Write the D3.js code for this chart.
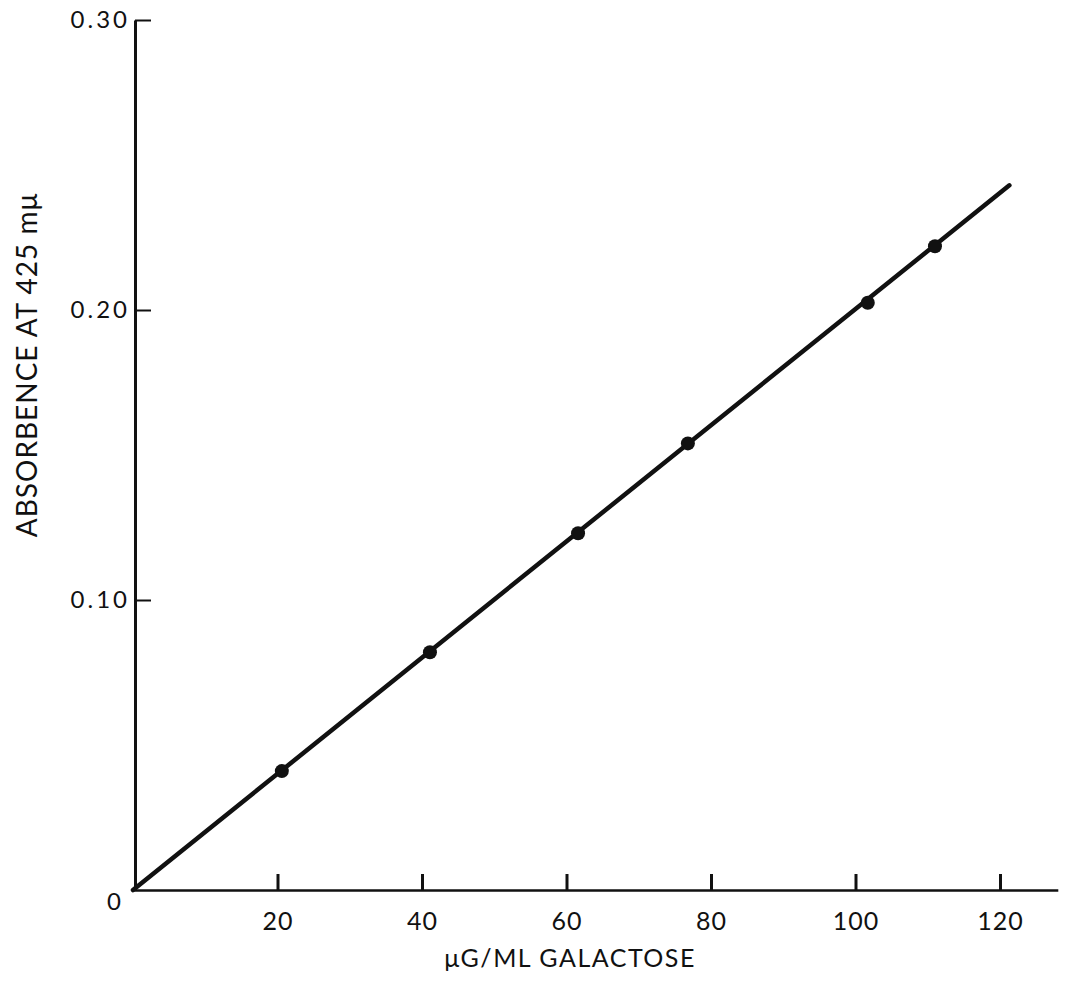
<!DOCTYPE html>
<html>
<head>
<meta charset="utf-8">
<script src="https://cdn.jsdelivr.net/npm/d3@7"></script>
<style>
  body { margin: 0; background: #fff; }
  svg text { font-family: Lato, "DejaVu Sans", sans-serif; fill: #111; }
</style>
</head>
<body>
<svg id="chart"></svg>
<script>
// values
const galactose = [20.6, 41.1, 61.6, 76.8, 101.7, 111];
const absorbence = [0.041, 0.082, 0.123, 0.154, 0.2025, 0.222];
const fitLineX = [0, 121.3];
const fitLineY = [0, 0.243];
const xTicks = [20, 40, 60, 80, 100, 120];
const yTicks = [0, 0.1, 0.2, 0.3];

const width = 1068, height = 982;

const svg = d3.select('#chart')
    .attr('width', width)
    .attr('height', height);

const x = d3.scaleLinear()
    .domain([0, 128])
    .range([133, 133 + 128 * 7.225]);

const y = d3.scaleLinear()
    .domain([0, 0.3])
    .range([890, 20]);

// x axis, ticks point up into the plot
const xAxis = svg.append('g')
    .attr('transform', `translate(0,${y(0)})`)
    .call(d3.axisBottom(x)
        .tickValues(xTicks)
        .tickSizeInner(-16)
        .tickSizeOuter(0)
        .tickPadding(22)
        .tickFormat(d3.format('d')));
xAxis.select('.domain').attr('stroke', '#111').attr('stroke-width', 2.5);
xAxis.selectAll('.tick line').attr('stroke', '#111').attr('stroke-width', 3);
xAxis.selectAll('.tick text')
    .attr('font-size', 25)
    .attr('letter-spacing', 1)
    .attr('fill', '#111');

// y axis, ticks point right
const yAxis = svg.append('g')
    .attr('transform', `translate(${x(0) + 2},0)`)
    .call(d3.axisLeft(y)
        .tickValues(yTicks)
        .tickSizeInner(-16)
        .tickSizeOuter(0)
        .tickPadding(5)
        .tickFormat(d => d === 0 ? '0' : d.toFixed(2)));
yAxis.select('.domain').attr('stroke', '#111').attr('stroke-width', 3);
yAxis.selectAll('.tick line').attr('stroke', '#111').attr('stroke-width', 2);
yAxis.selectAll('.tick text')
    .attr('font-size', 24)
    .attr('letter-spacing', 3)
    .attr('fill', '#111');
yAxis.selectAll('.tick').filter(d => d === 0).select('line').remove();
yAxis.selectAll('.tick').filter(d => d === 0).select('text')
    .attr('dx', -6).attr('dy', '0.8em');

// fitted straight line
const line = d3.line()
    .x(d => x(d[0]))
    .y(d => y(d[1]));

svg.append('path')
    .datum(d3.zip(fitLineX, fitLineY))
    .attr('d', line)
    .attr('fill', 'none')
    .attr('stroke', '#111')
    .attr('stroke-width', 4.5)
    .attr('stroke-linecap', 'round');

// measured points
svg.append('g')
    .selectAll('circle')
    .data(d3.zip(galactose, absorbence))
    .join('circle')
    .attr('cx', d => x(d[0]))
    .attr('cy', d => y(d[1]))
    .attr('r', 7)
    .attr('fill', '#111');

// axis titles
svg.append('text')
    .attr('x', 570)
    .attr('y', 967)
    .attr('text-anchor', 'middle')
    .attr('font-size', 25)
    .attr('letter-spacing', 1.5)
    .text('μG/ML GALACTOSE');

svg.append('text')
    .attr('transform', 'translate(37,365) rotate(-90)')
    .attr('text-anchor', 'middle')
    .attr('font-size', 28)
    .attr('letter-spacing', 1)
    .text('ABSORBENCE AT 425 mμ');
</script>
</body>
</html>
